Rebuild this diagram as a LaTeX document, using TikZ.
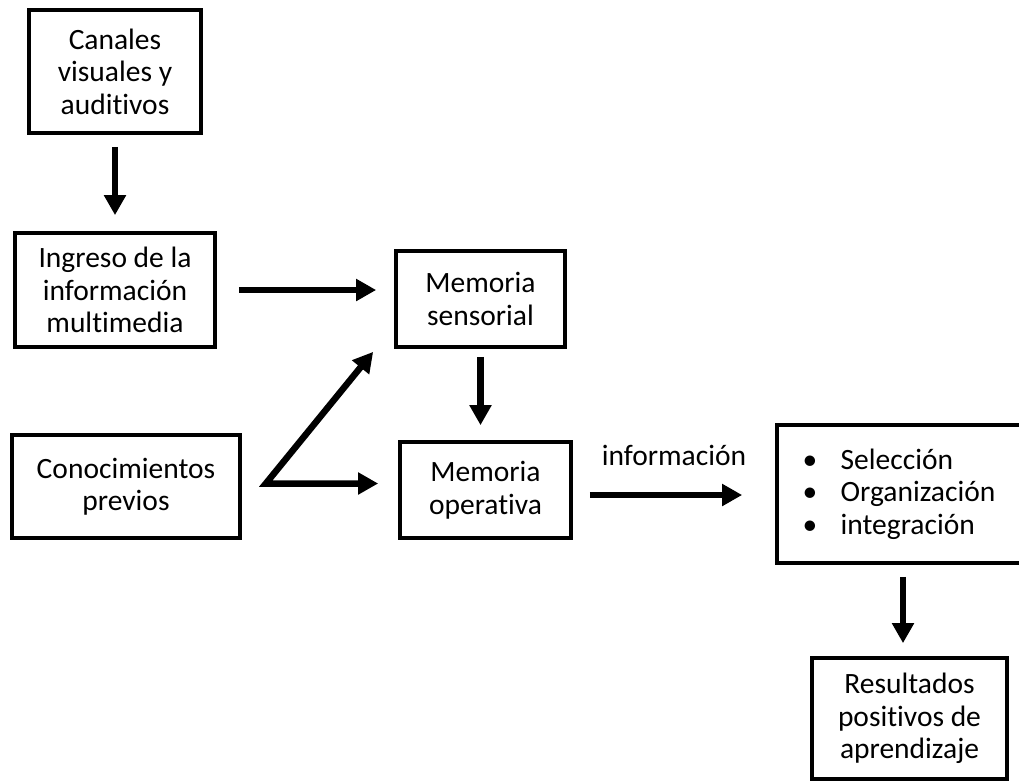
\documentclass[tikz,border=0pt]{standalone}
\usepackage{fontspec}
\setmainfont{Carlito}[Ligatures=NoCommon]
\usetikzlibrary{arrows.meta}
\begin{document}
\begin{tikzpicture}[x=1pt,y=-1pt,
  box/.style={draw, line width=3.7pt, inner sep=0pt, align=center,
    font=\fontsize{29.5}{32.5}\selectfont},
  arr/.style={line width=6.5pt, -{Triangle[width=21pt,length=20pt]}},
  lbl/.style={font=\fontsize{29.5}{32.5}\selectfont, inner sep=0pt}
]
\useasboundingbox (0,0) rectangle (1019,780);

% boxes
\node[box, minimum width=172pt, minimum height=123pt] (can) at (115,71.5)
  {Canales\\visuales y\\auditivos};
\node[box, minimum width=200pt, minimum height=114pt] (ing) at (115,290)
  {Ingreso de la\\información\\multimedia};
\node[box, minimum width=169pt, minimum height=96pt] (sen) at (480.5,299)
  {Memoria\\sensorial};
\node[box, minimum width=228pt, minimum height=103pt] (con) at (126,486.5)
  {Conocimientos\\previos};
\node[box, minimum width=171pt, minimum height=96pt] (op) at (485.5,490)
  {Memoria\\operativa};
\node[box, align=left, minimum width=244pt, minimum height=138pt] (sel) at (899,494)
  {\makebox[38pt][l]{\textbullet}Selección\\
   \makebox[38pt][l]{\textbullet}Organización\\
   \makebox[38pt][l]{\textbullet}integración};
\node[box, minimum width=195pt, minimum height=121pt] (res) at (909.5,718.5)
  {Resultados\\positivos de\\aprendizaje};

% connectors
\draw[arr, shorten <=12pt, shorten >=16pt] (can.south) -- (ing.north);
\draw[arr, shorten <=22pt, shorten >=18pt] (ing.east) -- (ing.east -| sen.west);
\draw[arr, shorten <=8pt, shorten >=15pt] (sen.south) -- (sen.south |- op.north);

% prior knowledge feeds both memories from one corner
\coordinate (split) at ([xshift=24pt,yshift=3pt]con.east);
\coordinate (diagtip) at ([xshift=-21pt,yshift=-3pt]sen.south west);
\coordinate (optip) at ([xshift=-20pt]split -| op.west);
\draw[line width=6.5pt, {Triangle[width=21pt,length=20pt]}-{Triangle[width=21pt,length=20pt]}]
  (diagtip) -- (split) -- (optip);

\draw[arr, shorten <=17pt, shorten >=33pt] ([yshift=-5pt]op.east) -- ([yshift=-5pt]op.east -| sel.west)
  node[lbl, midway, above=26pt] (inf) {información};
\draw[arr, shorten <=12pt, shorten >=13pt] ([xshift=4pt]sel.south) -- ([xshift=4pt]sel.south |- res.north);
\end{tikzpicture}
\end{document}
